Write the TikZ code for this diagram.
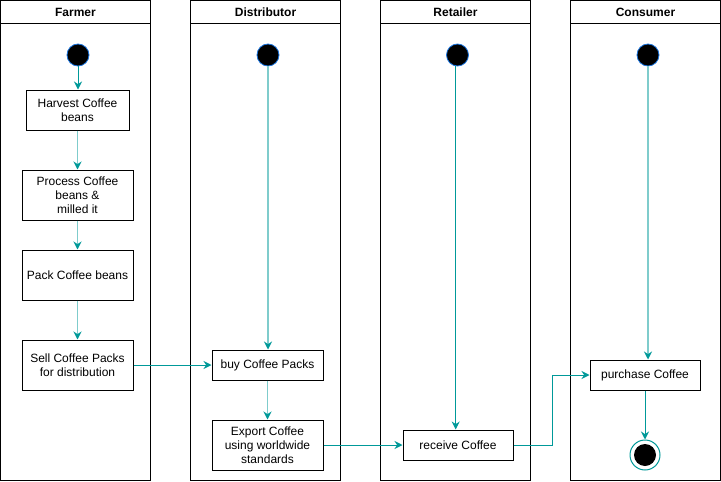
\documentclass[tikz,border=0pt]{standalone}
\usepackage{fontspec}
\setmainfont{Liberation Sans}
\usetikzlibrary{arrows.meta}
\definecolor{tealA}{HTML}{009999}
\definecolor{tealL}{HTML}{7FCCCC}
\definecolor{ringB}{HTML}{1A75E0}
\begin{document}
\begin{tikzpicture}[x=1pt,y=-1pt,
  lane/.style={draw=black,line width=1pt,fill=white},
  act/.style={draw=black,line width=1pt,rectangle,inner sep=0pt,align=center,font=\fontsize{12}{14}\selectfont},
  startnode/.style={circle,fill=black,draw=ringB,line width=0.8pt,minimum size=22pt,inner sep=0pt},
  flow/.style={draw=tealA,line width=1pt,-{Stealth[length=8pt,width=8pt,color=tealA]}},
  lflow/.style={draw=tealL,line width=1.2pt,-{Stealth[length=8pt,width=8pt,color=tealA]}},
  hdr/.style={font=\bfseries\fontsize{12}{14}\selectfont}]
\useasboundingbox (0,0) rectangle (721,482);
% lanes
\foreach \x/\name in {0.5/Farmer,190.5/Distributor,380.5/Retailer,570.5/Consumer}{
  \draw[lane] (\x,0.5) rectangle (\x+150,480.5);
  \draw[line width=1pt] (\x,23.5) -- (\x+150,23.5);
  \node[hdr] at (\x+75,12.5) {\name};
}
% start nodes
\node[startnode] (fs) at (78,55) {};
\node[startnode] (ds) at (268,55) {};
\node[startnode] (rs) at (457.5,55) {};
\node[startnode] (cs) at (648,55) {};
% activities
\node[act,minimum width=103pt,minimum height=40pt] (harvest) at (77.5,110) {Harvest Coffee\\beans};
\node[act,minimum width=111pt,minimum height=50pt] (process) at (77.5,195) {Process Coffee\\beans \&\\milled it};
\node[act,minimum width=111pt,minimum height=50pt] (pack) at (77.5,275) {Pack Coffee beans};
\node[act,minimum width=111pt,minimum height=50pt] (sell) at (77.5,365) {Sell Coffee Packs\\for distribution};
\node[act,minimum width=111pt,minimum height=30pt] (buy) at (267.5,365) {buy Coffee Packs};
\node[act,minimum width=111pt,minimum height=50pt] (export) at (267.5,445) {Export Coffee\\using worldwide\\standards};
\node[act,minimum width=110pt,minimum height=30pt] (receive) at (458,445) {receive Coffee};
\node[act,minimum width=110pt,minimum height=30pt] (purchase) at (645,375) {purchase Coffee};
% end node
\node[circle,draw=tealA,fill=white,line width=1pt,minimum size=30pt,inner sep=0pt] (end) at (645,455) {};
\node[circle,fill=black,minimum size=22pt,inner sep=0pt] at (end) {};
\coordinate (bend1) at (552,445);
\coordinate (bend2) at (552,375);
% connectors
\draw[flow] (fs.south) -- (harvest.north -| fs);
\draw[lflow] (harvest) -- (process);
\draw[lflow] (process) -- (pack);
\draw[lflow] (pack) -- (sell);
\draw[lflow] (ds.south) -- (buy.north -| ds);
\draw[lflow] (buy) -- (export);
\draw[flow] (rs.south -| 455.7,0) -- (receive.north -| 455.7,0);
\draw[lflow] (cs.south) -- (purchase.north -| cs);
\draw[flow] (sell) -- (buy);
\draw[flow] (export) -- (receive);
\draw[flow] (receive.east) -- (bend1) -- (bend2) -- (purchase.west);
\draw[flow] (purchase.south) -- (end.north);
\end{tikzpicture}
\end{document}
